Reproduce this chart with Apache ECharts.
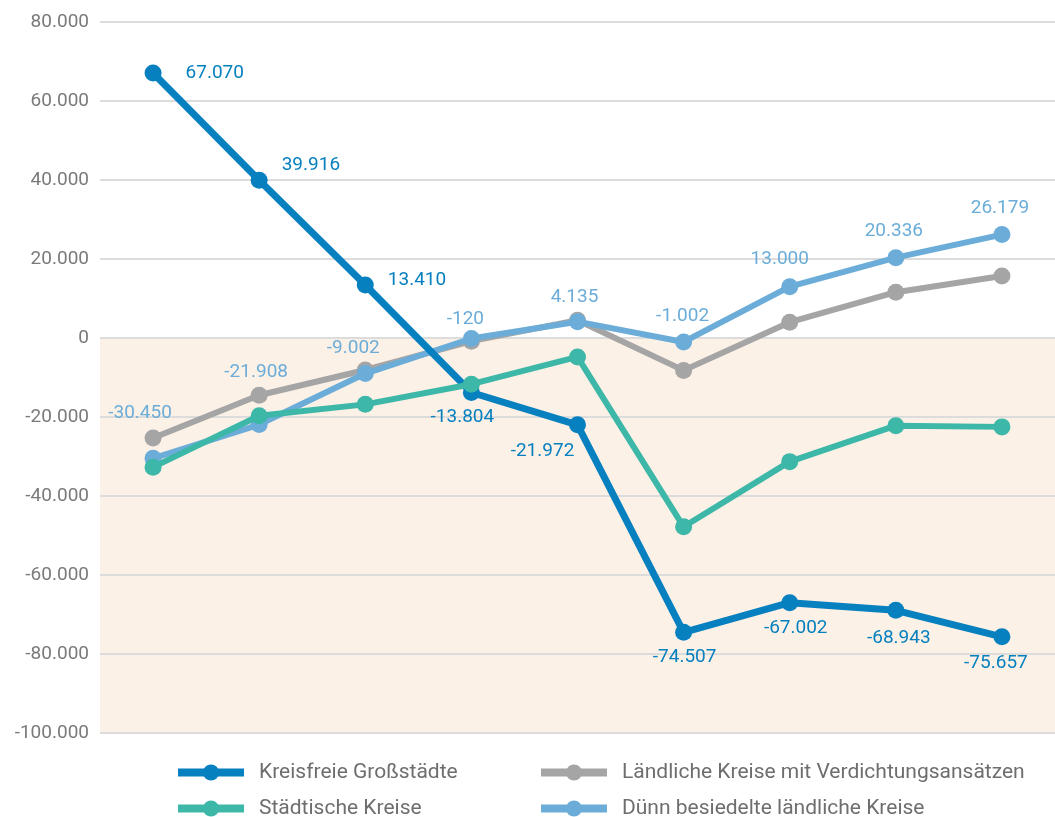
<!DOCTYPE html>
<html>
<head>
<meta charset="utf-8">
<script src="https://cdn.jsdelivr.net/npm/echarts@6/dist/echarts.min.js"></script>
<style>html,body{margin:0;padding:0;background:#fff}#c{width:1055px;height:817px}</style>
</head>
<body>
<div id="c"></div>
<script>
// ---- data ----
const categories = ['1','2','3','4','5','6','7','8','9'];
const seriesNames = ['Kreisfreie Großstädte','Ländliche Kreise mit Verdichtungsansätzen','Städtische Kreise','Dünn besiedelte ländliche Kreise'];
const kreisfreie = [67070, 39916, 13410, -13804, -21972, -74507, -67002, -68943, -75657];
const laendlich = [-25300, -14500, -8100, -800, 4500, -8200, 4000, 11600, 15700];
const staedtisch = [-32700, -19700, -16800, -11700, -4800, -47800, -31300, -22200, -22500];
const duenn = [-30450, -21908, -9002, -120, 4135, -1002, 13000, 20336, 26179];
const yMin = -100000, yMax = 80000, yStep = 20000;

// ---- style ----
const FONT = 'Roboto';
const C_DARK = '#0780bf', C_GRAY = '#a5a5a5', C_TEAL = '#3db7a7', C_LIGHT = '#6badd8';
const fmt = v => {
  const s = Math.abs(Math.round(v)).toString().replace(/\B(?=(\d{3})+(?!\d))/g, '.');
  return (v < 0 ? '-' : '') + s;
};
// label placement per point (style only)
const darkLabelStyle = [
  {position:'right', distance:5, offset:[19,0]},
  {position:'right', distance:5, offset:[9,-15]},
  {position:'right', distance:5, offset:[9,-5]},
  {position:'bottom', distance:5, offset:[-9,2]},
  {position:'bottom', distance:5, offset:[-35,3]},
  {position:'bottom', distance:5, offset:[1,2]},
  {position:'bottom', distance:5, offset:[6,3]},
  {position:'bottom', distance:5, offset:[3,5]},
  {position:'bottom', distance:5, offset:[-6,3]}
];
const lightLabelStyle = [
  {offset:[-13,-22]},{offset:[-3,-29]},{offset:[-12,-2]},{offset:[-6,4]},
  {offset:[-3,-1]},{offset:[-1,-3]},{offset:[-10,-4]},{offset:[-2,-3]},{offset:[-2,-3]}
];

const chart = echarts.init(document.getElementById('c'), null, {renderer:'canvas'});

function lineSeries(name, data, color, width, z, labelFn) {
  return {
    name, type:'line', data: data.map((v,i) => {
      const item = {value: v};
      if (labelFn) item.label = labelFn(i);
      return item;
    }),
    symbol:'circle', symbolSize:17, z,
    itemStyle:{color},
    lineStyle:{color, width},
    emphasis:{disabled:true},
    label:{show: !!labelFn, color, fontFamily:FONT, fontSize:19, formatter: p => fmt(p.value)}
  };
}

// legend layout: 2 x 2 grid (style only)
const legendPos = [[174,762],[537,762],[174,798],[537,798]];
const legendBase = {
  orient:'horizontal', padding:0,
  itemWidth:66, itemHeight:20,
  lineStyle:{width:8},
  textStyle:{color:'#6e6e6e', fontFamily:FONT, fontSize:21, padding:[0,0,0,10]}
};

const option = {
  animation:false,
  grid:{left:100, right:-8, top:22, bottom:84},
  xAxis:{type:'category', data:categories, boundaryGap:true,
    axisLine:{show:false}, axisTick:{show:false}, axisLabel:{show:false}, splitLine:{show:false}},
  yAxis:{type:'value', min:yMin, max:yMax, interval:yStep,
    axisLine:{show:false}, axisTick:{show:false},
    axisLabel:{color:'#7a7a7a', fontFamily:FONT, fontSize:19, margin:11, formatter: v => fmt(v)},
    splitLine:{lineStyle:{color:'#dcdcdc', width:2}}},
  legend: seriesNames.map((n,i) => Object.assign({}, legendBase, {data:[n], left:legendPos[i][0], top:legendPos[i][1]})),
  series:[
    Object.assign(lineSeries(seriesNames[0], kreisfreie, C_DARK, 7, 5, i => darkLabelStyle[i]), {
      markArea:{silent:true, itemStyle:{color:'#fcf1e7'}, data:[[{yAxis:0},{yAxis:yMin}]], z:-1}
    }),
    lineSeries(seriesNames[1], laendlich, C_GRAY, 6, 2, null),
    lineSeries(seriesNames[2], staedtisch, C_TEAL, 6, 6, null),
    lineSeries(seriesNames[3], duenn, C_LIGHT, 6, 3, i => Object.assign({position:'top', distance:5}, lightLabelStyle[i]))
  ]
};
chart.setOption(option);
</script>
</body>
</html>
